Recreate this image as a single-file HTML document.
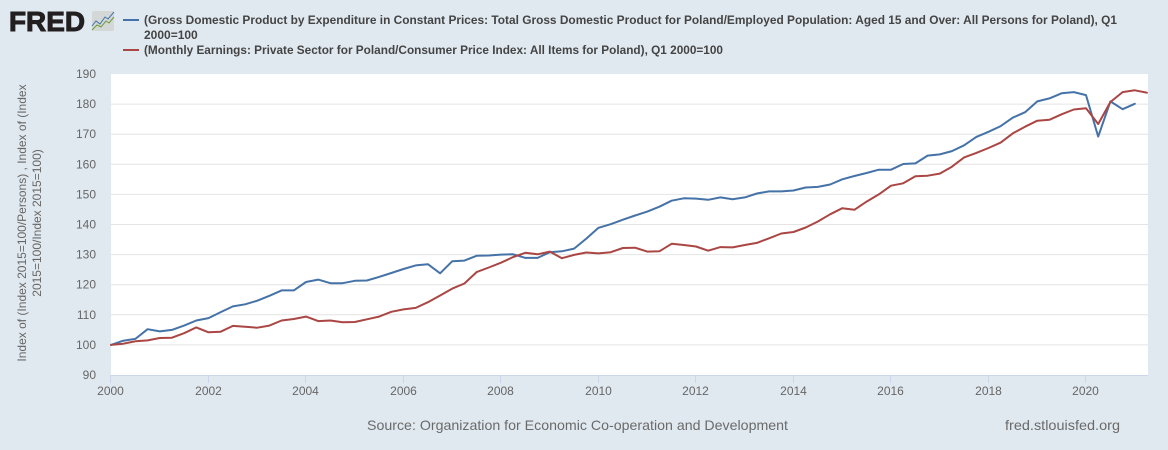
<!DOCTYPE html>
<html lang="en">
<head>
<meta charset="utf-8">
<title>FRED chart: Poland GDP per employed person and real monthly earnings</title>
<style>
html,body{margin:0;padding:0;background:#e1e9f0;}
body{width:1168px;height:450px;overflow:hidden;}
svg{display:block;font-family:"Liberation Sans",Arial,sans-serif;}
</style>
</head>
<body>
<svg id="chart" xmlns="http://www.w3.org/2000/svg" width="1168" height="450" viewBox="0 0 1168 450">
  <rect x="0" y="0" width="1168" height="450" fill="#e1e9f0"/>
  <g>
    <text x="9" y="31" font-size="28" font-weight="700" fill="#231f20" stroke="#231f20" stroke-width="1" textLength="76" lengthAdjust="spacingAndGlyphs">FRED</text>
    <rect x="92" y="11" width="22" height="20" rx="2" fill="#d3d8d6"/>
    <polyline points="92,26 96,21 100,24 105,17 108,19 114,12" fill="none" stroke="#4572a7" stroke-width="1"/>
    <polyline points="92,30 97,25 101,27 106,21 109,23 114,17" fill="none" stroke="#6f9a3c" stroke-width="1"/>
  </g>
  <g font-size="12" font-weight="700" fill="#444444">
    <g>
      <line x1="123" y1="20" x2="139" y2="20" stroke="#4572a7" stroke-width="2"/>
      <text x="144" y="24" textLength="973" lengthAdjust="spacingAndGlyphs">(Gross Domestic Product by Expenditure in Constant Prices: Total Gross Domestic Product for Poland/Employed Population: Aged 15 and Over: All Persons for Poland), Q1</text>
      <text x="144" y="39">2000=100</text>
    </g>
    <g>
      <line x1="123" y1="50" x2="139" y2="50" stroke="#aa4643" stroke-width="2"/>
      <text x="144" y="54" textLength="579" lengthAdjust="spacingAndGlyphs">(Monthly Earnings: Private Sector for Poland/Consumer Price Index: All Items for Poland), Q1 2000=100</text>
    </g>
  </g>
  <rect x="111" y="74" width="1037" height="301" fill="#ffffff"/>
  <g id="grid"></g>
  <g id="xaxis"></g>
  <g id="yaxis"></g>
  <g font-size="12" fill="#666666" text-anchor="middle">
    <text transform="translate(26,223) rotate(-90)">Index of (Index 2015=100/Persons) , Index of (Index</text>
    <text transform="translate(41,223) rotate(-90)">2015=100/Index 2015=100)</text>
  </g>
  <g id="series"></g>
  <text x="367" y="430" font-size="14" fill="#6a6a6a" textLength="421" lengthAdjust="spacingAndGlyphs">Source: Organization for Economic Co-operation and Development</text>
  <text x="1005" y="430" font-size="14" fill="#6a6a6a" textLength="115" lengthAdjust="spacingAndGlyphs">fred.stlouisfed.org</text>
</svg>
<script>
const startYear = 2000;
const quartersPerYear = 4;
const xTickYears = [2000, 2002, 2004, 2006, 2008, 2010, 2012, 2014, 2016, 2018, 2020];
const yTickValues = [90, 100, 110, 120, 130, 140, 150, 160, 170, 180, 190];
const gdpPerWorker = [
  100, 101.4, 102, 105.2, 104.5, 105, 106.4, 108.1, 108.9, 110.9, 112.8, 113.5,
  114.7, 116.3, 118.1, 118.1, 120.9, 121.7, 120.5, 120.5, 121.3, 121.4, 122.6, 123.9,
  125.2, 126.4, 126.8, 123.8, 127.8, 128, 129.6, 129.7, 130, 130.1, 128.9, 128.9,
  130.8, 131.1, 132, 135.3, 138.9, 140.1, 141.6, 143, 144.3, 145.9, 147.9, 148.7,
  148.6, 148.2, 149, 148.4, 149, 150.3, 151, 151, 151.3, 152.3, 152.5, 153.3,
  155, 156.1, 157.1, 158.2, 158.2, 160.1, 160.3, 162.9, 163.3, 164.4, 166.3, 169.1,
  170.8, 172.7, 175.5, 177.3, 180.9, 181.9, 183.6, 184, 183, 169.2, 180.9, 178.3, 180.1
];
const realEarnings = [
  100, 100.4, 101.2, 101.5, 102.3, 102.4, 103.9, 105.8, 104.2, 104.4, 106.3, 106,
  105.7, 106.4, 108.1, 108.6, 109.4, 107.9, 108.1, 107.5, 107.6, 108.5, 109.4, 111,
  111.8, 112.3, 114.2, 116.4, 118.7, 120.4, 124.2, 125.7, 127.3, 129.2, 130.6, 130.1,
  131, 128.8, 129.9, 130.7, 130.4, 130.8, 132.2, 132.3, 131, 131.1, 133.6, 133.2,
  132.7, 131.3, 132.5, 132.4, 133.2, 133.9, 135.4, 137, 137.5, 139, 141, 143.4,
  145.4, 144.9, 147.6, 150, 152.9, 153.7, 156, 156.2, 156.9, 159.2, 162.3, 163.8,
  165.4, 167.2, 170.3, 172.5, 174.5, 174.8, 176.6, 178.2, 178.6, 173.4, 180.7, 184, 184.6, 183.8
];

const NS = 'http://www.w3.org/2000/svg';
const plotLeft = 111, pxPerYear = 48.75;
const plotRight = 1148, plotTop = 74, plotBottom = 375;
const yMin = 90, yMax = 190;
function xScale(year) { return plotLeft + (year - startYear) * pxPerYear; }
function yScale(v) { return plotBottom - (v - yMin) / (yMax - yMin) * (plotBottom - plotTop); }
function quarterYear(i) { return startYear + i / quartersPerYear; }
function make(tag, attrs, parent) {
  const el = document.createElementNS(NS, tag);
  for (const k in attrs) el.setAttribute(k, attrs[k]);
  parent.appendChild(el);
  return el;
}

const grid = document.getElementById('grid');
const yaxis = document.getElementById('yaxis');
const xaxis = document.getElementById('xaxis');

yTickValues.forEach(function (v) {
  if (v !== yMin && v !== yMax) {
    const g = make('line', {x1: plotLeft, x2: plotRight, y1: yScale(v), y2: yScale(v), stroke: '#e4e4e4', 'stroke-width': 1}, grid);
    
    
  }
  const t = make('text', {x: 96, y: yScale(v) + 4, 'font-size': 12, fill: '#666666', 'text-anchor': 'end'}, yaxis);
  
  
  t.textContent = v;
});

const axisLine = make('line', {x1: plotLeft, x2: plotRight, y1: plotBottom + 0.5, y2: plotBottom + 0.5, stroke: '#ccd6eb', 'stroke-width': 1}, xaxis);



xTickYears.forEach(function (yr) {
  const x = Math.round(xScale(yr)) - 0.5;
  const tick = make('line', {x1: x, x2: x, y1: plotBottom, y2: plotBottom + 8, stroke: '#ccd6eb', 'stroke-width': 1}, xaxis);
  
  
  const t = make('text', {x: x, y: 395, 'font-size': 12, fill: '#666666', 'text-anchor': 'middle'}, xaxis);
  
  
  t.textContent = yr;
});

const seriesGroup = document.getElementById('series');
function drawSeries(values, color, name) {
  const pts = values.map(function (v, i) {
    return xScale(quarterYear(i)).toFixed(1) + ',' + yScale(v).toFixed(1);
  }).join(' ');
  const line = make('polyline', {points: pts, fill: 'none', stroke: color, 'stroke-width': 2, 'stroke-linejoin': 'round', 'stroke-linecap': 'round'}, seriesGroup);
  
  
}
drawSeries(gdpPerWorker, '#4572a7', 'series-gdp-per-employed-person');
drawSeries(realEarnings, '#aa4643', 'series-real-monthly-earnings');
</script>
</body>
</html>
